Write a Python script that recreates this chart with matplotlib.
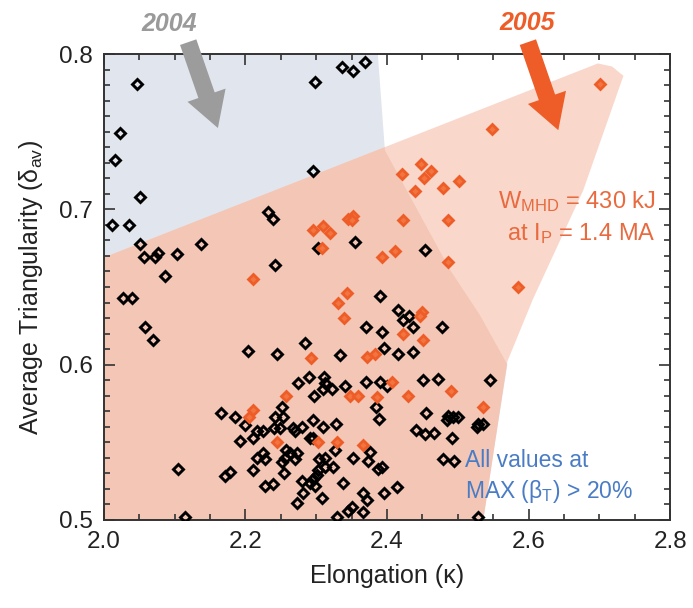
"""Triangularity vs elongation scatter, 2004 and 2005 operating regions.

Redraws the high-beta shaping plot: black points are 2004 discharges,
orange points are 2005 discharges, shaded areas mark each campaign's
accessible region.
"""

import matplotlib
matplotlib.use("Agg")
import matplotlib.pyplot as plt
from matplotlib.patches import Polygon
from matplotlib.ticker import MultipleLocator

plt.rcParams["font.family"] = ["Liberation Sans", "DejaVu Sans"]
plt.rcParams["mathtext.fontset"] = "custom"
plt.rcParams["mathtext.rm"] = "Liberation Sans"
plt.rcParams["mathtext.it"] = "Liberation Sans:italic"

# 2004 discharges (black)
black_kappa = [
    2.047, 2.298, 2.336, 2.352, 2.369, 2.023, 2.016, 2.295, 2.051, 2.011,
    2.035, 2.051, 2.057, 2.072, 2.077, 2.103, 2.137, 2.232, 2.239, 2.242,
    2.086, 2.027, 2.039, 2.303, 2.355, 2.454, 2.390, 2.204, 2.244, 2.284,
    2.334, 2.274, 2.290, 2.311, 2.312, 2.322, 2.310, 2.341, 2.297, 2.416,
    2.423, 2.431, 2.370, 2.393, 2.437, 2.478, 2.395, 2.416, 2.437, 2.370,
    2.390, 2.400, 2.451, 2.472, 2.546, 2.384, 2.389, 2.455, 2.486, 2.493,
    2.500, 2.485, 2.529, 2.536, 2.527, 2.441, 2.454, 2.466, 2.492, 2.376,
    2.352, 2.373, 2.387, 2.393, 2.479, 2.495, 2.338, 2.366, 2.371, 2.395,
    2.414, 2.350, 2.366, 2.528, 2.165, 2.185, 2.199, 2.252, 2.242, 2.253,
    2.240, 2.249, 2.225, 2.216, 2.211, 2.192, 2.295, 2.280, 2.270, 2.267,
    2.310, 2.328, 2.291, 2.295, 2.327, 2.257, 2.263, 2.273, 2.270, 2.256,
    2.225, 2.216, 2.228, 2.211, 2.252, 2.254, 2.312, 2.304, 2.312, 2.302,
    2.301, 2.295, 2.298, 2.291, 2.280, 2.178, 2.171, 2.228, 2.239, 2.281,
    2.273, 2.308, 2.329, 2.058, 2.069, 2.105, 2.114, 2.324, 2.345,
]
black_delta = [
    0.781, 0.782, 0.792, 0.789, 0.795, 0.749, 0.732, 0.725, 0.708, 0.690,
    0.690, 0.678, 0.669, 0.669, 0.672, 0.671, 0.678, 0.698, 0.694, 0.664,
    0.657, 0.643, 0.643, 0.675, 0.679, 0.674, 0.644, 0.609, 0.607, 0.614,
    0.606, 0.588, 0.592, 0.592, 0.588, 0.584, 0.584, 0.586, 0.580, 0.635,
    0.629, 0.631, 0.624, 0.621, 0.624, 0.624, 0.611, 0.607, 0.608, 0.589,
    0.589, 0.586, 0.590, 0.591, 0.590, 0.573, 0.565, 0.569, 0.567, 0.566,
    0.566, 0.564, 0.562, 0.562, 0.560, 0.558, 0.555, 0.556, 0.553, 0.544,
    0.540, 0.538, 0.533, 0.534, 0.539, 0.538, 0.524, 0.517, 0.513, 0.517,
    0.521, 0.508, 0.505, 0.502, 0.569, 0.566, 0.561, 0.573, 0.566, 0.566,
    0.559, 0.559, 0.557, 0.557, 0.553, 0.551, 0.564, 0.560, 0.557, 0.559,
    0.560, 0.562, 0.553, 0.553, 0.545, 0.545, 0.543, 0.543, 0.539, 0.540,
    0.543, 0.540, 0.539, 0.532, 0.537, 0.530, 0.540, 0.539, 0.534, 0.532,
    0.529, 0.526, 0.522, 0.524, 0.525, 0.531, 0.528, 0.522, 0.523, 0.517,
    0.511, 0.514, 0.502, 0.624, 0.616, 0.533, 0.502, 0.534, 0.506,
]

# 2005 discharges (orange)
orange_kappa = [
    2.296, 2.310, 2.319, 2.308, 2.345, 2.211, 2.701, 2.548, 2.421, 2.448,
    2.462, 2.452, 2.440, 2.479, 2.502, 2.352, 2.350, 2.423, 2.486, 2.393,
    2.411, 2.486, 2.585, 2.343, 2.331, 2.339, 2.293, 2.257, 2.449, 2.447,
    2.423, 2.451, 2.372, 2.383, 2.407, 2.490, 2.348, 2.359, 2.386, 2.430,
    2.536, 2.366, 2.211, 2.205, 2.245, 2.302, 2.329,
]
orange_delta = [
    0.687, 0.689, 0.685, 0.675, 0.694, 0.655, 0.781, 0.752, 0.723, 0.729,
    0.725, 0.720, 0.712, 0.714, 0.718, 0.696, 0.693, 0.693, 0.693, 0.669,
    0.673, 0.666, 0.650, 0.646, 0.640, 0.630, 0.604, 0.580, 0.634, 0.631,
    0.620, 0.616, 0.605, 0.607, 0.589, 0.583, 0.580, 0.580, 0.579, 0.580,
    0.573, 0.548, 0.571, 0.566, 0.550, 0.550, 0.550,
]

# Operating-region outlines (kappa, delta)
region_2004 = [
    (2.0, 0.8), (2.387, 0.8), (2.397, 0.738), (2.489, 0.661), (2.531, 0.632),
    (2.570, 0.600), (2.553, 0.551), (2.536, 0.5), (2.0, 0.5),
]
region_2005 = [
    (2.0, 0.669), (2.698, 0.794), (2.718, 0.792), (2.734, 0.786), (2.677, 0.712),
    (2.606, 0.642), (2.570, 0.602), (2.553, 0.551), (2.536, 0.5), (2.0, 0.5),
]

GRAY_FILL = "#E1E5ED"
SALMON_LIGHT = "#F9D8CB"
SALMON_DARK = "#F3C6B5"
ORANGE = "#EE5C28"
ORANGE_TEXT = "#E86A3E"
BLUE_TEXT = "#4A7CC6"


def plot(output_path="out.png"):
    fig = plt.figure(figsize=(6.93, 6.08), dpi=100)
    ax = fig.add_axes([0.150, 0.145, 0.817, 0.766])

    ax.add_patch(Polygon(region_2004, closed=True, fc=GRAY_FILL, ec="none", zorder=0))
    salmon = Polygon(region_2005, closed=True, fc=SALMON_LIGHT, ec="none", zorder=0.5)
    ax.add_patch(salmon)
    overlap = Polygon(region_2004, closed=True, fc=SALMON_DARK, ec="none", zorder=0.6)
    ax.add_patch(overlap)
    overlap.set_clip_path(salmon)

    ax.plot(black_kappa, black_delta, ls="none", marker="D", ms=4.8,
            mfc="none", mec="black", mew=2.1, zorder=3)
    ax.plot(orange_kappa, orange_delta, ls="none", marker="D", ms=4.8,
            mfc="#F2753F", mec=ORANGE, mew=2.0, zorder=4)

    # campaign arrows, starting above the frame
    arrow_kw = dict(arrowstyle="simple,head_length=1.25,head_width=1.45,tail_width=0.62",
                    mutation_scale=20, shrinkA=0, shrinkB=0, lw=0)
    ax.annotate("", xy=(2.161, 0.7524), xytext=(2.119, 0.8077),
                arrowprops=dict(fc="#9C9C9C", ec="none", **arrow_kw),
                annotation_clip=False, zorder=5)
    ax.annotate("", xy=(2.642, 0.751), xytext=(2.599, 0.8077),
                arrowprops=dict(fc=ORANGE, ec="none", **arrow_kw),
                annotation_clip=False, zorder=5)

    fig.text(0.244, 0.9605, "2004", color="#9A9A9A", fontsize=18,
             fontweight="bold", fontstyle="italic", ha="center", va="center")
    fig.text(0.760, 0.962, "2005", color=ORANGE, fontsize=18,
             fontweight="bold", fontstyle="italic", ha="center", va="center")

    ax.text(2.779, 0.701, r"W$_{\rm MHD}$ = 430 kJ", color=ORANGE_TEXT,
            fontsize=17, ha="right", va="baseline", zorder=6)
    ax.text(2.779, 0.680, r"at I$_{\rm P}$ = 1.4 MA", color=ORANGE_TEXT,
            fontsize=17, ha="right", va="baseline", zorder=6)
    ax.text(2.510, 0.534, "All values at", color=BLUE_TEXT,
            fontsize=16.5, ha="left", va="baseline", zorder=6)
    ax.text(2.510, 0.514, r"MAX (β$_{\rm T}$) > 20%", color=BLUE_TEXT,
            fontsize=16.5, ha="left", va="baseline", zorder=6)

    ax.set_xlim(2.0, 2.8)
    ax.set_ylim(0.5, 0.8)
    ax.xaxis.set_major_locator(MultipleLocator(0.2))
    ax.xaxis.set_minor_locator(MultipleLocator(0.05))
    ax.yaxis.set_major_locator(MultipleLocator(0.1))
    ax.yaxis.set_minor_locator(MultipleLocator(0.01))
    ax.tick_params(which="both", direction="in", top=True, right=True,
                   color="#333333", width=1.2)
    ax.tick_params(which="major", length=8, labelsize=17.5, pad=8, labelcolor="#222222")
    ax.tick_params(which="minor", length=4.5)
    for spine in ax.spines.values():
        spine.set_color("#333333")
        spine.set_linewidth(1.4)

    ax.set_xlabel("Elongation (κ)", fontsize=18, color="#222222", labelpad=8)
    ax.set_ylabel(r"Average Triangularity (δ$_{\rm av}$)", fontsize=18,
                  color="#222222", labelpad=10)

    fig.savefig(output_path, dpi=100)


def main():
    plot("out.png")


if __name__ == "__main__":
    main()
